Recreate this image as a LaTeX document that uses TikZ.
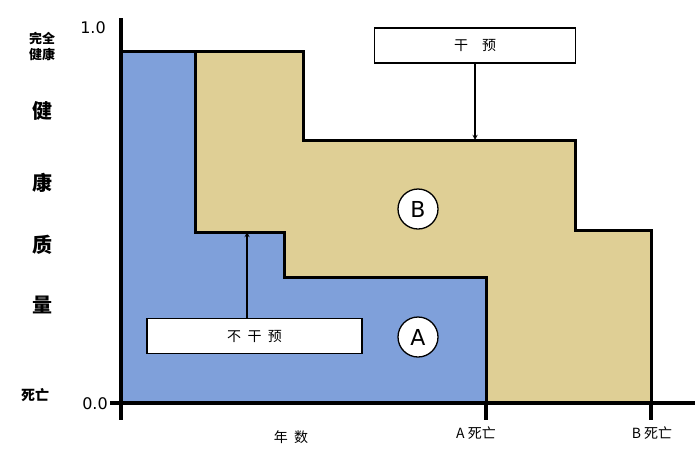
\documentclass[tikz,border=0pt]{standalone}
\usepackage{fontspec}
\setmainfont{DejaVu Sans}
\newfontfamily\cjk{Noto Sans CJK SC}
\definecolor{bluefill}{HTML}{7FA0DA}
\definecolor{tanfill}{HTML}{DFCF95}
\begin{document}
\begin{tikzpicture}[x=1pt,y=-1pt,
  region/.style={line width=3pt,line join=miter},
  lbl/.style={font=\cjk\fontsize{14}{16}\selectfont},
  bigl/.style={font=\cjk\bfseries\fontsize{20}{22}\selectfont},
  boxn/.style={draw,line width=1.3pt,fill=white,minimum width=#1,minimum height=35pt,font=\cjk\fontsize{14}{16}\selectfont},
  circ/.style={draw,circle,fill=white,line width=1.3pt,minimum size=40pt,inner sep=0pt,font=\fontsize{22}{24}\selectfont},
  arr/.style={-stealth,line width=1.3pt}]
\useasboundingbox (0,0) rectangle (700,461);
\filldraw[region,fill=tanfill] (195,51)--(303,51)--(303,140)--(575,140)--(575,230)--(651,230)--(651,403)--(486,403)--(486,277)--(284,277)--(284,232)--(195,232)--cycle;
\filldraw[region,fill=bluefill] (121,51)--(195,51)--(195,232)--(284,232)--(284,277)--(486,277)--(486,403)--(121,403)--cycle;
\draw[line width=3.5pt] (121,18)--(121,420);
\draw[line width=3.5pt] (110,403)--(695,403);
\draw[line width=3.5pt] (486,403)--(486,420);
\draw[line width=3.5pt] (651,403)--(651,420);
\node[boxn=201pt] (iv) at (475,45.5) {干\quad 预};
\node[boxn=215pt] (niv) at (254.5,336) {不\ \ 干\ \ 预};
\coordinate (ivt) at (475,140);
\coordinate (nivt) at (247,232);
\draw[arr] (iv.south) -- (ivt);
\draw[arr] (niv.north -| nivt) -- (nivt);
\node[circ] (b) at (418,209) {B};
\node[circ] (a) at (418,337) {A};
\node[font=\fontsize{16}{18}\selectfont] (one) at (93,28) {1.0};
\node[font=\fontsize{16}{18}\selectfont] (zero) at (95,404) {0.0};
\node[align=center,inner sep=0pt,font=\cjk\bfseries\fontsize{13}{16}\selectfont] (full) at (42,46) {完全\\健康};
\node[lbl,font=\cjk\bfseries\fontsize{14}{16}\selectfont] (dead) at (35,395) {死亡};
\node[bigl] (q1) at (42,111) {健};
\node[bigl] (q2) at (42,183) {康};
\node[bigl] (q3) at (42,245) {质};
\node[bigl] (q4) at (42,305) {量};
\node[lbl] (yrs) at (291,437) {年\ \ 数};
\node[lbl] (ad) at (476,433) {A 死亡};
\node[lbl] (bd) at (652,433) {B 死亡};
\end{tikzpicture}
\end{document}
